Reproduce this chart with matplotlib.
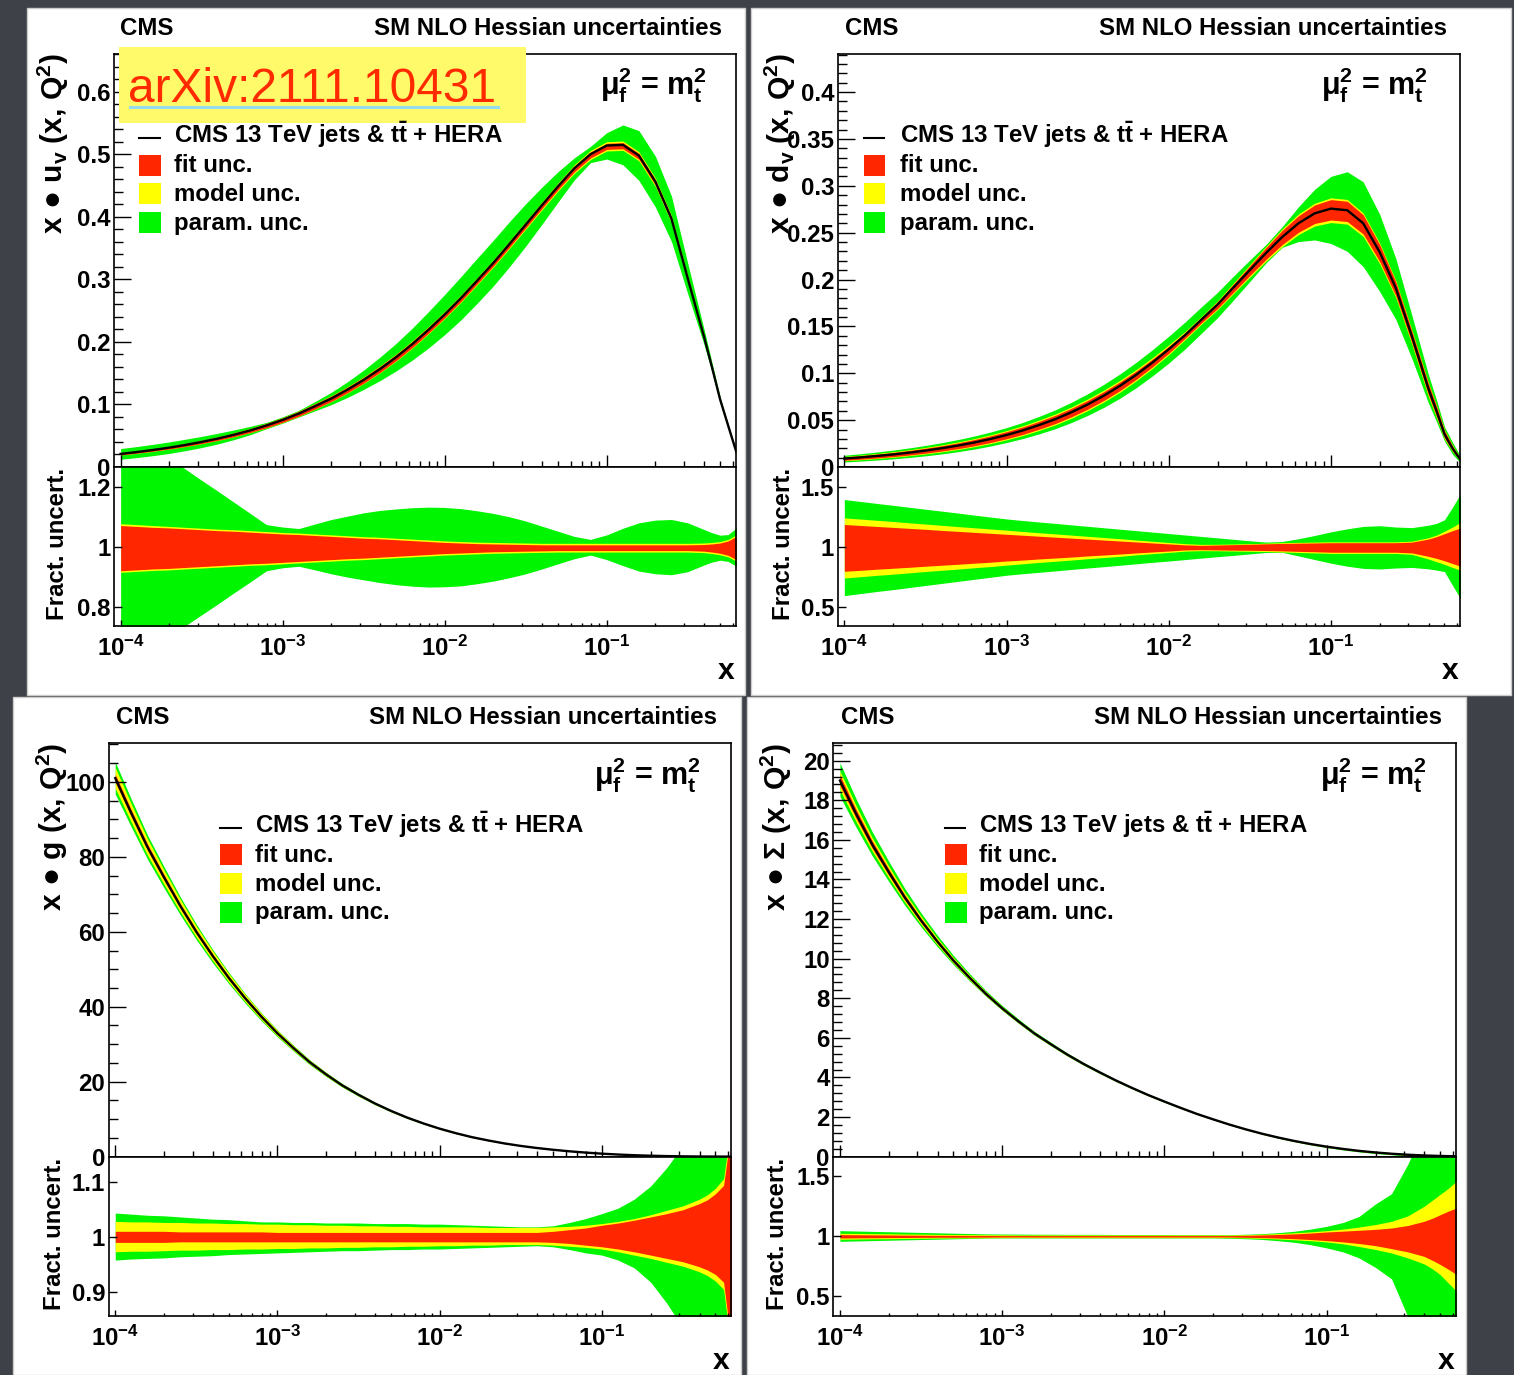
import numpy as np
import matplotlib
matplotlib.use("Agg")
import matplotlib.pyplot as plt
from matplotlib.patches import Rectangle
from matplotlib.lines import Line2D
from matplotlib.ticker import MultipleLocator, FuncFormatter, NullFormatter, NullLocator, LogLocator

plt.rcParams["font.family"] = ["Liberation Sans", "DejaVu Sans"]
plt.rcParams["font.weight"] = "bold"
plt.rcParams["mathtext.fontset"] = "custom"
plt.rcParams["mathtext.rm"] = "Liberation Sans:bold"
plt.rcParams["mathtext.it"] = "Liberation Sans:bold"
plt.rcParams["mathtext.bf"] = "Liberation Sans:bold"
plt.rcParams["mathtext.sf"] = "Liberation Sans"


# data (same x points for every panel)
# --------------------------------------------------------
x_grid = [1.0e-4, 1.26e-4, 1.58e-4, 2.0e-4, 2.51e-4, 3.16e-4, 3.98e-4, 5.01e-4, 6.31e-4, 7.94e-4,
          1.0e-3, 1.26e-3, 1.58e-3, 2.0e-3, 2.51e-3, 3.16e-3, 3.98e-3, 5.01e-3, 6.31e-3, 7.94e-3,
          1.0e-2, 1.26e-2, 1.58e-2, 2.0e-2, 2.51e-2, 3.16e-2, 3.98e-2, 5.01e-2, 6.31e-2, 7.94e-2,
          0.100, 0.126, 0.158, 0.200, 0.251, 0.316, 0.398, 0.447, 0.501, 0.562, 0.631]

# x * u_v and its fractional uncertainties
uv_central = [0.0210, 0.0239, 0.0272, 0.0310, 0.0353, 0.0401, 0.0455, 0.0516, 0.0585, 0.0664,
              0.0753, 0.0855, 0.0971, 0.1096, 0.1236, 0.1392, 0.1565, 0.1755, 0.1965, 0.2194,
              0.2439, 0.2701, 0.2976, 0.3266, 0.3566, 0.3875, 0.4185, 0.4489, 0.4776, 0.5001,
              0.514, 0.515, 0.498, 0.456, 0.397, 0.302, 0.209, 0.159, 0.108, 0.066, 0.024]
uv_green_hi = [1.405, 1.368, 1.331, 1.295, 1.258, 1.221, 1.185, 1.148, 1.111, 1.074,
               1.066, 1.061, 1.076, 1.091, 1.102, 1.113, 1.121, 1.126, 1.130, 1.132,
               1.131, 1.127, 1.120, 1.111, 1.100, 1.086, 1.069, 1.052, 1.035, 1.025,
               1.040, 1.062, 1.080, 1.089, 1.091, 1.080, 1.058, 1.047, 1.039, 1.041, 1.063]
uv_green_lo = [0.593, 0.629, 0.666, 0.702, 0.739, 0.775, 0.811, 0.848, 0.884, 0.921,
               0.931, 0.936, 0.924, 0.911, 0.900, 0.891, 0.882, 0.875, 0.870, 0.867,
               0.868, 0.871, 0.878, 0.887, 0.898, 0.911, 0.927, 0.944, 0.961, 0.973,
               0.958, 0.938, 0.920, 0.911, 0.908, 0.918, 0.940, 0.950, 0.956, 0.952, 0.936]
uv_yellow_hi = [1.077, 1.074, 1.071, 1.068, 1.065, 1.062, 1.059, 1.057, 1.054, 1.051,
                1.048, 1.046, 1.043, 1.040, 1.037, 1.034, 1.032, 1.029, 1.026, 1.023,
                1.020, 1.018, 1.016, 1.015, 1.014, 1.013, 1.012, 1.012, 1.012, 1.012,
                1.012, 1.012, 1.012, 1.012, 1.012, 1.012, 1.013, 1.015, 1.018, 1.025, 1.040]
uv_yellow_lo = [0.916, 0.919, 0.922, 0.924, 0.927, 0.930, 0.933, 0.936, 0.939, 0.941,
                0.944, 0.947, 0.950, 0.953, 0.956, 0.958, 0.961, 0.964, 0.967, 0.970,
                0.973, 0.975, 0.977, 0.979, 0.980, 0.981, 0.982, 0.983, 0.983, 0.983,
                0.983, 0.983, 0.983, 0.983, 0.983, 0.983, 0.981, 0.978, 0.974, 0.967, 0.953]
uv_red_hi = [1.071, 1.068, 1.065, 1.063, 1.060, 1.057, 1.054, 1.052, 1.049, 1.046,
             1.043, 1.041, 1.038, 1.035, 1.032, 1.029, 1.027, 1.024, 1.021, 1.018,
             1.015, 1.013, 1.011, 1.010, 1.009, 1.008, 1.007, 1.007, 1.007, 1.007,
             1.007, 1.007, 1.007, 1.007, 1.007, 1.007, 1.008, 1.010, 1.013, 1.020, 1.035]
uv_red_lo = [0.921, 0.924, 0.927, 0.929, 0.932, 0.935, 0.938, 0.941, 0.944, 0.946,
             0.949, 0.952, 0.955, 0.958, 0.961, 0.963, 0.966, 0.969, 0.972, 0.975,
             0.978, 0.980, 0.982, 0.984, 0.985, 0.986, 0.987, 0.988, 0.988, 0.988,
             0.988, 0.988, 0.988, 0.988, 0.988, 0.988, 0.986, 0.983, 0.979, 0.972, 0.958]

# x * d_v
dv_central = [0.0090, 0.01028, 0.01174, 0.01341, 0.01531, 0.01749, 0.01998, 0.02282, 0.02609, 0.02984,
              0.03412, 0.03902, 0.04464, 0.05105, 0.05837, 0.06667, 0.07609, 0.08664, 0.09847, 0.1115,
              0.1256, 0.1407, 0.1568, 0.1734, 0.1917, 0.2101, 0.2283, 0.2454, 0.2600, 0.2706,
              0.2756, 0.2739, 0.260, 0.229, 0.191, 0.139, 0.084, 0.060, 0.035, 0.0198, 0.0075]
dv_green_hi = [1.393, 1.377, 1.361, 1.345, 1.329, 1.313, 1.297, 1.281, 1.264, 1.248,
               1.232, 1.219, 1.207, 1.195, 1.183, 1.171, 1.159, 1.147, 1.135, 1.123,
               1.111, 1.099, 1.087, 1.075, 1.063, 1.051, 1.040, 1.045, 1.068, 1.095,
               1.125, 1.150, 1.170, 1.176, 1.165, 1.160, 1.180, 1.195, 1.225, 1.33, 1.443]
dv_green_lo = [0.596, 0.613, 0.630, 0.646, 0.663, 0.680, 0.697, 0.714, 0.731, 0.748,
               0.765, 0.778, 0.789, 0.801, 0.813, 0.825, 0.836, 0.848, 0.860, 0.872,
               0.883, 0.895, 0.907, 0.919, 0.930, 0.942, 0.954, 0.955, 0.925, 0.895,
               0.865, 0.840, 0.822, 0.817, 0.825, 0.830, 0.818, 0.808, 0.795, 0.68, 0.568]
dv_yellow_hi = [1.241, 1.231, 1.221, 1.211, 1.200, 1.190, 1.179, 1.169, 1.159, 1.149,
                1.139, 1.128, 1.118, 1.108, 1.098, 1.088, 1.078, 1.068, 1.057, 1.047,
                1.037, 1.027, 1.021, 1.022, 1.024, 1.027, 1.031, 1.035, 1.038, 1.040,
                1.042, 1.042, 1.042, 1.042, 1.042, 1.048, 1.076, 1.098, 1.13, 1.165, 1.205]
dv_yellow_lo = [0.742, 0.753, 0.764, 0.774, 0.785, 0.796, 0.806, 0.816, 0.827, 0.837,
                0.849, 0.860, 0.871, 0.881, 0.891, 0.902, 0.912, 0.922, 0.934, 0.944,
                0.954, 0.965, 0.969, 0.968, 0.966, 0.964, 0.962, 0.958, 0.954, 0.950,
                0.946, 0.946, 0.946, 0.946, 0.946, 0.938, 0.900, 0.878, 0.855, 0.830, 0.806]
dv_red_hi = [1.186, 1.178, 1.170, 1.162, 1.154, 1.146, 1.137, 1.129, 1.121, 1.113,
             1.105, 1.097, 1.089, 1.081, 1.073, 1.065, 1.057, 1.049, 1.041, 1.033,
             1.025, 1.017, 1.013, 1.016, 1.019, 1.022, 1.026, 1.029, 1.031, 1.033,
             1.035, 1.035, 1.035, 1.035, 1.035, 1.040, 1.065, 1.085, 1.11, 1.135, 1.158]
dv_red_lo = [0.798, 0.806, 0.815, 0.823, 0.831, 0.840, 0.848, 0.856, 0.865, 0.873,
             0.883, 0.891, 0.900, 0.908, 0.916, 0.925, 0.933, 0.941, 0.950, 0.958,
             0.966, 0.975, 0.977, 0.975, 0.973, 0.972, 0.970, 0.967, 0.963, 0.960,
             0.956, 0.956, 0.956, 0.956, 0.956, 0.950, 0.922, 0.905, 0.885, 0.862, 0.839]

# x * g
g_central = [101, 91.5, 82.6, 74.5, 67.0, 60.0, 53.6, 47.7, 42.3, 37.4,
             32.9, 28.9, 25.2, 21.9, 19.0, 16.5, 14.2, 12.2, 10.4, 8.85,
             7.45, 6.24, 5.19, 4.29, 3.51, 2.85, 2.29, 1.82, 1.41, 1.07,
             0.78, 0.55, 0.37, 0.235, 0.135, 0.069, 0.030, 0.020, 0.012, 0.007, 0.004]
g_green_hi = [1.043, 1.041, 1.039, 1.038, 1.036, 1.034, 1.032, 1.031, 1.029, 1.027,
              1.027, 1.026, 1.026, 1.025, 1.025, 1.025, 1.024, 1.024, 1.024, 1.023,
              1.023, 1.022, 1.021, 1.020, 1.019, 1.018, 1.018, 1.020, 1.026, 1.033,
              1.042, 1.052, 1.068, 1.092, 1.125, 1.165, 1.22, 1.25, 1.28, 1.31, 1.34]
g_green_lo = [0.958, 0.960, 0.961, 0.962, 0.964, 0.965, 0.966, 0.968, 0.969, 0.970,
              0.971, 0.972, 0.973, 0.974, 0.975, 0.975, 0.976, 0.977, 0.977, 0.978,
              0.978, 0.979, 0.980, 0.981, 0.982, 0.983, 0.984, 0.982, 0.977, 0.971,
              0.967, 0.958, 0.944, 0.918, 0.880, 0.835, 0.78, 0.75, 0.72, 0.69, 0.66]
g_yellow_hi = [1.028, 1.027, 1.027, 1.026, 1.026, 1.025, 1.025, 1.024, 1.024, 1.023,
               1.023, 1.022, 1.022, 1.021, 1.021, 1.020, 1.020, 1.019, 1.019, 1.018,
               1.018, 1.018, 1.018, 1.017, 1.017, 1.017, 1.017, 1.018, 1.019, 1.021,
               1.024, 1.028, 1.033, 1.040, 1.048, 1.056, 1.068, 1.076, 1.088, 1.105, 1.21]
g_yellow_lo = [0.973, 0.974, 0.974, 0.975, 0.976, 0.976, 0.977, 0.977, 0.978, 0.978,
               0.979, 0.979, 0.980, 0.980, 0.981, 0.981, 0.982, 0.982, 0.983, 0.983,
               0.984, 0.984, 0.985, 0.985, 0.986, 0.986, 0.986, 0.985, 0.983, 0.981,
               0.978, 0.973, 0.967, 0.961, 0.954, 0.947, 0.937, 0.930, 0.920, 0.905, 0.79]
g_red_hi = [1.010, 1.010, 1.010, 1.010, 1.009, 1.009, 1.009, 1.009, 1.009, 1.009,
            1.008, 1.008, 1.008, 1.008, 1.008, 1.008, 1.008, 1.008, 1.008, 1.008,
            1.008, 1.008, 1.008, 1.008, 1.008, 1.008, 1.008, 1.010, 1.013, 1.016,
            1.021, 1.025, 1.030, 1.036, 1.042, 1.049, 1.060, 1.067, 1.078, 1.093, 1.20]
g_red_lo = [0.990, 0.990, 0.990, 0.990, 0.991, 0.991, 0.991, 0.991, 0.991, 0.991,
            0.991, 0.991, 0.991, 0.991, 0.991, 0.991, 0.991, 0.991, 0.991, 0.991,
            0.991, 0.991, 0.991, 0.991, 0.991, 0.991, 0.991, 0.990, 0.988, 0.985,
            0.982, 0.978, 0.973, 0.967, 0.961, 0.955, 0.946, 0.940, 0.932, 0.918, 0.80]

# x * Sigma
s_central = [19.0, 17.30, 15.77, 14.37, 13.09, 11.93, 10.87, 9.90, 9.03, 8.22,
             7.49, 6.83, 6.22, 5.67, 5.16, 4.69, 4.26, 3.85, 3.47, 3.11,
             2.78, 2.46, 2.16, 1.88, 1.62, 1.38, 1.16, 0.965, 0.790, 0.636,
             0.502, 0.387, 0.289, 0.209, 0.144, 0.094, 0.058, 0.044, 0.032, 0.023, 0.017]
s_green_hi = [1.047, 1.044, 1.041, 1.038, 1.035, 1.032, 1.029, 1.026, 1.023, 1.020,
              1.019, 1.018, 1.017, 1.017, 1.016, 1.016, 1.016, 1.015, 1.015, 1.015,
              1.015, 1.014, 1.014, 1.014, 1.014, 1.017, 1.022, 1.030, 1.042, 1.060,
              1.083, 1.115, 1.165, 1.27, 1.355, 1.60, 1.90, 2.0, 2.1, 2.2, 2.3]
s_green_lo = [0.958, 0.961, 0.964, 0.967, 0.970, 0.973, 0.976, 0.979, 0.982, 0.985,
              0.986, 0.986, 0.986, 0.986, 0.986, 0.986, 0.986, 0.986, 0.986, 0.986,
              0.986, 0.986, 0.986, 0.986, 0.984, 0.980, 0.974, 0.963, 0.950, 0.930,
              0.903, 0.870, 0.82, 0.74, 0.645, 0.33, 0.2, 0.12, 0.05, 0.0, 0.0]
s_yellow_hi = [1.025, 1.024, 1.022, 1.021, 1.019, 1.018, 1.016, 1.015, 1.014, 1.013,
               1.012, 1.011, 1.011, 1.011, 1.011, 1.011, 1.011, 1.011, 1.011, 1.011,
               1.011, 1.011, 1.011, 1.011, 1.011, 1.013, 1.017, 1.022, 1.029, 1.037,
               1.047, 1.060, 1.077, 1.098, 1.125, 1.17, 1.25, 1.30, 1.35, 1.40, 1.46]
s_yellow_lo = [0.975, 0.977, 0.979, 0.980, 0.982, 0.983, 0.985, 0.986, 0.987, 0.988,
               0.989, 0.989, 0.989, 0.989, 0.989, 0.989, 0.989, 0.989, 0.989, 0.989,
               0.989, 0.989, 0.989, 0.989, 0.989, 0.987, 0.983, 0.978, 0.971, 0.963,
               0.953, 0.937, 0.915, 0.89, 0.861, 0.82, 0.77, 0.73, 0.68, 0.61, 0.542]
s_red_hi = [1.014, 1.013, 1.012, 1.011, 1.010, 1.009, 1.008, 1.008, 1.007, 1.007,
            1.006, 1.006, 1.006, 1.006, 1.006, 1.006, 1.006, 1.006, 1.006, 1.006,
            1.006, 1.006, 1.006, 1.006, 1.006, 1.008, 1.011, 1.015, 1.020, 1.027,
            1.036, 1.043, 1.050, 1.058, 1.069, 1.09, 1.125, 1.15, 1.18, 1.21, 1.236]
s_red_lo = [0.986, 0.987, 0.988, 0.989, 0.990, 0.991, 0.992, 0.992, 0.993, 0.993,
            0.994, 0.994, 0.994, 0.994, 0.994, 0.994, 0.994, 0.994, 0.994, 0.994,
            0.994, 0.994, 0.994, 0.994, 0.994, 0.992, 0.989, 0.985, 0.980, 0.973,
            0.964, 0.953, 0.940, 0.922, 0.897, 0.87, 0.833, 0.80, 0.765, 0.725, 0.681]

x_tick_vals = [1e-4, 1e-3, 1e-2, 1e-1]
x_tick_labels = [r"$10^{-4}$", r"$10^{-3}$", r"$10^{-2}$", r"$10^{-1}$"]
legend_labels = [r"CMS 13 TeV jets & t$\bar{t}$ + HERA", "fit unc.", "model unc.", "param. unc."]


# layout helpers (all positions in pixels of the 1514 x 1375 picture)
# --------------------------------------------------------
W, H = 1514, 1375
RED, YELLOW, GREEN = "#ff2600", "#ffff00", "#00f500"
FS = 17.3
XLIM = (9.1e-5, 0.628)


def fig_box(x0, y0, x1, y1):
    return [x0 / W, 1 - y1 / H, (x1 - x0) / W, (y1 - y0) / H]


def fy(y):
    return 1 - y / H


def fmt_g(v, pos):
    return f"{v:g}"


def draw_legend(fig, x_mark, x_text, y_base):
    colors = [None, RED, YELLOW, GREEN]
    for i, lab in enumerate(legend_labels):
        yb = y_base + i * 28.8
        if colors[i] is None:
            fig.add_artist(Line2D([x_mark / W, (x_mark + 20.7) / W], [fy(yb - 5.3)] * 2,
                                  transform=fig.transFigure, color="black", lw=1.5))
        else:
            fig.add_artist(Rectangle((x_mark / W, fy(yb + 3.5)), 21.7 / W, 21 / H,
                                     transform=fig.transFigure, color=colors[i], lw=0))
        fig.text(x_text / W, fy(yb), lab, fontsize=FS, fontweight="bold",
                 va="baseline", zorder=12)


def draw_panel(fig, left, right, top, mid, bottom, central, bands,
               ylim, ymajor, yminor, rlim, rticks, ylabel, ylab_x, fract_x,
               cms_x, title_x, title_y, mu_x, leg_mark, leg_text, leg_y):

    x = np.array(x_grid)
    c = np.array(central)

    ax = fig.add_axes(fig_box(left, top, right, mid))
    rax = fig.add_axes(fig_box(left, mid, right, bottom), sharex=ax)

    # bands: green, then yellow, then red, then the central line
    for (lo, hi), col in zip(bands, (GREEN, YELLOW, RED)):
        lo, hi = np.array(lo), np.array(hi)
        ax.fill_between(x, c * lo, c * hi, color=col, lw=0)
        rax.fill_between(x, lo, hi, color=col, lw=0)
    ax.plot(x, c, color="black", lw=1.7)

    ax.set_xscale("log")
    ax.set_xlim(*XLIM)
    ax.set_ylim(*ylim)
    ax.yaxis.set_major_locator(MultipleLocator(ymajor))
    ax.yaxis.set_minor_locator(MultipleLocator(yminor))
    ax.yaxis.set_major_formatter(FuncFormatter(fmt_g))
    ax.tick_params(axis="x", which="both", labelbottom=False, direction="in")
    ax.tick_params(axis="x", which="major", length=8.5, width=1)
    ax.tick_params(axis="x", which="minor", length=4.3, width=1)
    ax.tick_params(axis="y", which="major", direction="in", length=12, width=1,
                   labelsize=FS, pad=2.5)
    ax.tick_params(axis="y", which="minor", direction="in", length=6.5, width=1)

    rax.set_ylim(*rlim)
    rax.set_yticks(rticks)
    rax.yaxis.set_major_formatter(FuncFormatter(fmt_g))
    rax.yaxis.set_minor_locator(NullLocator())
    rax.set_xticks(x_tick_vals)
    rax.set_xticklabels(x_tick_labels)
    rax.xaxis.set_minor_locator(LogLocator(base=10, subs=np.arange(2, 10), numticks=20))
    rax.xaxis.set_minor_formatter(NullFormatter())
    rax.set_xlim(*XLIM)
    rax.tick_params(axis="x", which="major", direction="in", length=4.6, width=1,
                    labelsize=FS, pad=7)
    rax.tick_params(axis="x", which="minor", direction="in", length=2.2, width=1)
    rax.tick_params(axis="y", which="major", direction="in", length=5.4, width=1,
                    labelsize=FS, pad=2.5)

    for a in (ax, rax):
        for s in a.spines.values():
            s.set_linewidth(1.2)

    # texts
    fig.text(ylab_x / W, fy(top), ylabel, rotation=90, ha="center", va="top",
             fontsize=21.6, fontweight="bold")
    fig.text(fract_x / W, fy(mid + 1), "Fract. uncert.", rotation=90, ha="center",
             va="top", fontsize=FS, fontweight="bold")
    fig.text((right - 2) / W, fy(bottom + 53), "x", ha="right", va="baseline",
             fontsize=21.6, fontweight="bold")
    fig.text(cms_x / W, fy(title_y), "CMS", ha="left", va="baseline",
             fontsize=FS, fontweight="bold")
    fig.text(title_x / W, fy(title_y), "SM NLO Hessian uncertainties", ha="right",
             va="baseline", fontsize=FS, fontweight="bold")
    fig.text(mu_x / W, fy(top + 41), r"$\mathsf{\mu}^{2}_{f}$ = m$^{2}_{t}$",
             ha="right", va="baseline", fontsize=22, fontweight="bold")
    draw_legend(fig, leg_mark, leg_text, leg_y)
    return ax, rax


fig = plt.figure(figsize=(W / 100, H / 100), dpi=100)
fig.patch.set_facecolor("#3e4147")

# white slide panels
for (x0, y0, x1, y1) in [(27, 8, 745, 695), (751, 8, 1511, 695),
                         (13, 697, 741, 1375), (747, 697, 1466, 1375)]:
    fig.add_artist(Rectangle((x0 / W, fy(y1)), (x1 - x0) / W, (y1 - y0) / H,
                             transform=fig.transFigure, facecolor="white",
                             edgecolor="#cccccc", lw=1, zorder=-1))

draw_panel(fig, 114, 736, 53.6, 467, 626, uv_central,
           [(uv_green_lo, uv_green_hi), (uv_yellow_lo, uv_yellow_hi), (uv_red_lo, uv_red_hi)],
           (0, 0.661), 0.1, 0.02, (0.738, 1.265), [0.8, 1.0, 1.2],
           r"x ● u$_{v}$ (x, Q$^{2}$)", 53, 58,
           120, 722, 35, 707, 139.3, 174.5, 143.3)

draw_panel(fig, 837.7, 1460.4, 53.6, 467, 626, dv_central,
           [(dv_green_lo, dv_green_hi), (dv_yellow_lo, dv_yellow_hi), (dv_red_lo, dv_red_hi)],
           (0, 0.441), 0.05, 0.01, (0.344, 1.663), [0.5, 1.0, 1.5],
           r"x ● d$_{v}$ (x, Q$^{2}$)", 780, 784,
           845, 1447, 35, 1428, 863.5, 899.6, 143.3)

draw_panel(fig, 108.6, 731.4, 743.3, 1156.6, 1316, g_central,
           [(g_green_lo, g_green_hi), (g_yellow_lo, g_yellow_hi), (g_red_lo, g_red_hi)],
           (0, 110.3), 20, 5, (0.857, 1.145), [0.9, 1.0, 1.1],
           r"x ● g (x, Q$^{2}$)", 52, 55,
           116, 717, 724, 701, 220.5, 255.4, 833)

draw_panel(fig, 833.3, 1456.2, 743.3, 1156.6, 1316, s_central,
           [(s_green_lo, s_green_hi), (s_yellow_lo, s_yellow_hi), (s_red_lo, s_red_hi)],
           (0, 20.88), 2, 0.4, (0.336, 1.664), [0.5, 1.0, 1.5],
           r"x ● $\mathsf{\Sigma}$ (x, Q$^{2}$)", 776, 778,
           841, 1442, 724, 1427, 944.8, 979.4, 833)

# arXiv sticker on the first panel
fig.add_artist(Rectangle((118.7 / W, fy(122.7)), (526 - 118.7) / W, (122.7 - 46.7) / H,
                         transform=fig.transFigure, facecolor="#fffa6a", lw=0, zorder=10))
fig.text(128 / W, fy(101.5), "arXiv:2111.10431", color="#ff2a00", fontsize=34.5,
         fontweight="normal", ha="left", va="baseline", zorder=11)
fig.add_artist(Line2D([130 / W, 498 / W], [fy(106.7)] * 2, transform=fig.transFigure,
                      color="#96dcf0", lw=2.2, zorder=11))

fig.savefig("out.png", dpi=100, facecolor=fig.get_facecolor())
